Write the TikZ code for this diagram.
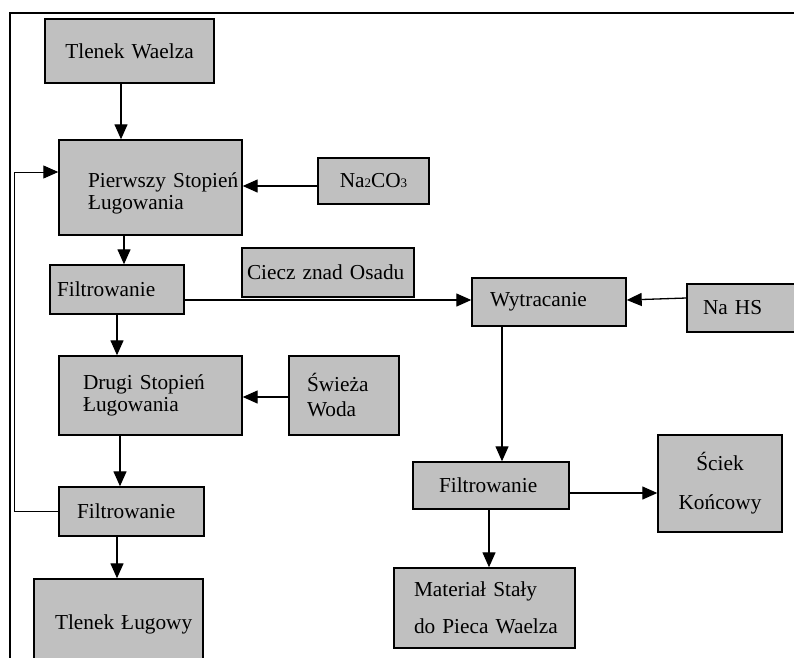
\documentclass[tikz,border=0pt]{standalone}
\usepackage{fontspec}
\setmainfont{Liberation Serif}
\usetikzlibrary{arrows.meta}
\definecolor{boxgray}{HTML}{C0C0C0}
\newcommand{\padl}[1]{\hspace*{#1}}
\newcommand{\smalldig}[1]{{\fontsize{13}{13}\selectfont #1}}
\begin{document}
\begin{tikzpicture}[x=1pt,y=-1pt,
  box/.style={draw=black, line width=1.4pt, fill=boxgray, inner sep=0pt,
    font=\fontsize{21.3}{22}\selectfont},
  wh/.style n args={2}{minimum width=#1, minimum height=#2, text width=#1},
  lsp/.style={font=\fontsize{21.3}{#1}\selectfont},
  arr/.style={line width=1.3pt, -{Triangle[length=15pt,width=13pt]}},
  frame/.style={line width=2pt},
  ]
\useasboundingbox (0,0) rectangle (794,657);
% frame (top and left edges)
\draw[frame] (9.5,700) -- (9.5,13) -- (820,13);

% boxes
\node[box, wh={169pt}{64pt}, align=center] (TW) at (129.5,51) {Tlenek Waelza};
\node[box, wh={183pt}{95pt}, align=left] (P1) at (150.5,187.5)
  {\padl{29pt}\rule{0pt}{27pt}Pierwszy Stopień\\\padl{29pt}Ługowania};
\node[box, wh={111pt}{46pt}, align=center] (NA) at (373.5,181)
  {Na\smalldig{2}CO\smalldig{3}};
\node[box, wh={134pt}{49pt}, align=left] (F1) at (117,289.5) {\padl{7pt}Filtrowanie};
\node[box, wh={172pt}{49pt}, align=left] (CZ) at (328,272.5) {\padl{5pt}Ciecz znad Osadu};
\node[box, wh={154pt}{48pt}, align=left] (WY) at (549,302) {\padl{18pt}Wytracanie};
\node[box, wh={113pt}{48pt}, align=left] (NH) at (743.5,308) {\padl{16pt}Na HS};
\node[box, wh={183pt}{79pt}, align=left] (P2) at (150.5,395.5)
  {\padl{24pt}Drugi Stopień\\\padl{24pt}Ługowania};
\node[box, wh={110pt}{79pt}, align=left, lsp=25] (SW) at (344,395.5)
  {\padl{18pt}Świeża\\\padl{18pt}Woda};
\node[box, wh={145pt}{49pt}, align=left] (F2) at (131.5,511.5) {\padl{18pt}Filtrowanie};
\node[box, wh={169pt}{91pt}, align=left] (TL) at (118.5,624.5) {\padl{21pt}Tlenek Ługowy};
\node[box, wh={156pt}{47pt}, align=left] (F3) at (491,485.5) {\padl{26pt}Filtrowanie};
\node[box, wh={124pt}{97pt}, align=center, lsp=39] (SK) at (720,483.5)
  {\rule{0pt}{18pt}Ściek\\Końcowy};
\node[box, wh={181pt}{80pt}, align=left, lsp=37] (MS) at (484.5,608)
  {\padl{20pt}Materiał Stały\\\padl{20pt}do Pieca Waelza};

% connectors
\draw[arr] ([xshift=-8.5pt]TW.south) -- ([xshift=-29.5pt]P1.north);
\draw[arr] ([xshift=-26.5pt]P1.south) -- ([xshift=7pt]F1.north);
\draw[arr] ([yshift=-5pt]NA.west) -- ([yshift=-5pt]NA.west -| P1.east);
\draw[arr] (F1.south) -- (F1.south |- P2.north);
\draw[arr] ([yshift=-10.5pt]F1.east) -- ([yshift=-10.5pt]F1.east -| WY.west);
\draw[arr] ([yshift=10pt]NH.west) -- ([yshift=2pt]WY.east);
\draw[arr] ([xshift=-47pt]WY.south) -- ([xshift=11pt]F3.north);
\draw[arr] ([yshift=-1.5pt]SW.west) -- ([yshift=-1.5pt]SW.west -| P2.east);
\draw[arr] ([xshift=-30.5pt]P2.south) -- ([xshift=-11.5pt]F2.north);
\draw[arr, line width=1pt] (F2.west) -- ++(-44,0) |- ([yshift=15.5pt]P1.west);
\draw[arr] ([xshift=-14.5pt]F2.south) -- ([xshift=-1.5pt]TL.north);
\draw[arr] ([yshift=-7.5pt]F3.east) -- ([yshift=-7.5pt]F3.east -| SK.west);
\draw[arr] ([xshift=-2pt]F3.south) -- ([xshift=4.5pt]MS.north);
\end{tikzpicture}
\end{document}
